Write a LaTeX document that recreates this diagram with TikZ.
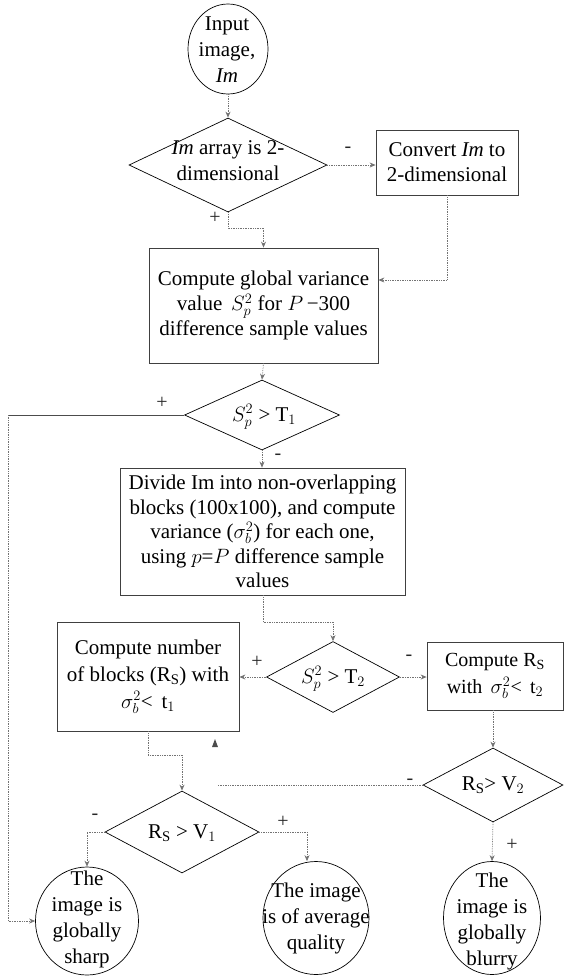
\documentclass[tikz,border=0pt]{standalone}
\usepackage{fontspec}
\setmainfont{Liberation Serif}
\usetikzlibrary{shapes.geometric,arrows.meta}
\begin{document}
\begin{tikzpicture}[x=1pt,y=-1pt,
  txt/.style={font=\fontsize{21}{26}\selectfont, align=center, inner sep=0pt},
  lbl/.style={font=\fontsize{20}{24}\selectfont, inner sep=0pt, text=black!85},
  boxst/.style={draw=black!75, line width=0.8pt, rectangle, inner sep=0pt, align=center, font=\fontsize{21}{25}\selectfont},
  dia/.style={draw=black, line width=0.7pt, diamond, inner sep=0pt},
  ell/.style={draw=black, line width=0.7pt, ellipse, inner sep=0pt},
  conn/.style={draw=black!55, line width=0.7pt, densely dotted, -{Stealth[length=6pt,width=5pt]}},
  connplain/.style={draw=black!55, line width=0.7pt, densely dotted},
  connsolid/.style={draw=black!70, line width=0.7pt}]
\useasboundingbox (0,0) rectangle (564,978);

% shapes
\node[ell, minimum width=80pt, minimum height=90pt] (inp) at (228,49) {};
\node[txt] (inpt) at (227,50) {Input\\image,\\\textit{Im}};

\node[dia, minimum width=198pt, minimum height=94pt] (d1) at (228,165) {};
\node[txt] (d1t) at (228,161) {\textit{Im} array is 2-\\dimensional};

\node[boxst, minimum width=142pt, minimum height=65pt] (conv) at (447,162.5) {Convert \textit{Im} to\\2-dimensional};

\node[boxst, minimum width=229pt, minimum height=115pt] (glob) at (263.5,305.5)
  {Compute global variance\\value\, $S_p^2$ for $P$\,−300\\difference sample values};

\node[dia, minimum width=155pt, minimum height=70pt] (d2) at (262,415) {};
\node[txt] (d2t) at (264,417) {$S_p^2$ > T$_1$};

\node[boxst, minimum width=285pt, minimum height=127pt, font=\fontsize{21}{24.5}\selectfont] (div) at (262.5,531.5)
  {Divide Im into non-overlapping\\blocks (100x100), and compute\\variance ($\sigma_b^2$) for each one,\\using $p$=$P$ difference sample\\values};

\node[dia, minimum width=133pt, minimum height=71pt] (d3) at (333,677) {};
\node[txt] (d3t) at (333,679) {$S_p^2$ > T$_2$};

\node[boxst, minimum width=182pt, minimum height=109pt, font=\fontsize{21}{27}\selectfont] (num) at (148,676.5)
  {Compute number\\of blocks (R$_\mathrm{S}$) with\\$\sigma_b^2$<\, t$_1$};

\node[boxst, minimum width=136pt, minimum height=68pt, font=\fontsize{20}{27}\selectfont] (rsb) at (495,676)
  {Compute R$_\mathrm{S}$\\with\, $\sigma_b^2$<\, t$_2$};

\node[dia, minimum width=140pt, minimum height=74pt] (d5) at (493,785) {};
\node[txt] (d5t) at (493,785) {R$_\mathrm{S}$> V$_2$};

\node[dia, minimum width=154pt, minimum height=82pt] (d4) at (182,832) {};
\node[txt] (d4t) at (182,833) {R$_\mathrm{S}$ > V$_1$};

\node[ell, minimum width=103pt, minimum height=108pt] (sharp) at (87,921) {};
\node[txt] (sharpt) at (87,919) {The\\image is\\globally\\sharp};

\node[ell, minimum width=106pt, minimum height=113pt] (avg) at (316,918) {};
\node[txt] (avgt) at (316,918) {The image\\is of average\\quality};

\node[ell, minimum width=97pt, minimum height=113pt] (blur) at (492,918) {};
\node[txt] (blurt) at (492,921) {The\\image is\\globally\\blurry};

% helper coordinates
\coordinate (k1) at (228,228);
\coordinate (k2) at (447,280);
\coordinate (k3) at (8,415);
\coordinate (k4) at (263,622);
\coordinate (k5) at (148,755);
\coordinate (k6) at (217,785);

% connectors
\draw[conn] (inp.south) -- (d1.north);
\draw[conn] (d1.east) -- (d1.east -| conv.west);
\draw[conn] (d1.south) -- (k1) -| (glob.north);
\draw[conn] (conv.south) -- (k2) -- (k2 -| glob.east);
\draw[conn] (glob.south) -- (d2.north);
\draw[connsolid] (d2.west) -- (k3);
\draw[conn] (k3) |- (sharp.west);
\draw[conn] (d2.south) -- (d2.south |- div.north);
\draw[conn] (div.south -| k4) -- (k4) -| (d3.north);
\draw[conn] (d3.west) -- (d3.west -| num.east);
\draw[conn] (d3.east) -- (d3.east -| rsb.west);
\draw[conn] (rsb.south -| d5.north) -- (d5.north);
\draw[conn] (num.south) -- (k5) -| (d4.north);
\draw[connplain] (d5.west) -- (k6);
\draw[conn] (d4.west) -| (sharp.north);
\draw[conn] (d4.east) -| ([xshift=-9pt]avg.north);
\draw[conn] (d5.south) -- (blur.north);

% stray mark
\fill[black!70] (212,747) -- (215,739) -- (218,747) -- cycle;

% labels
\node[lbl] (l1) at (348,150) {-};
\node[lbl] (l2) at (215,218) {+};
\node[lbl] (l3) at (162,403) {+};
\node[lbl] (l4) at (278,457) {-};
\node[lbl] (l5) at (257,662) {+};
\node[lbl] (l6) at (409,658) {-};
\node[lbl] (l7) at (410,782) {-};
\node[lbl] (l8) at (95,817) {-};
\node[lbl] (l9) at (283,822) {+};
\node[lbl] (l10) at (512,845) {+};
\end{tikzpicture}
\end{document}
